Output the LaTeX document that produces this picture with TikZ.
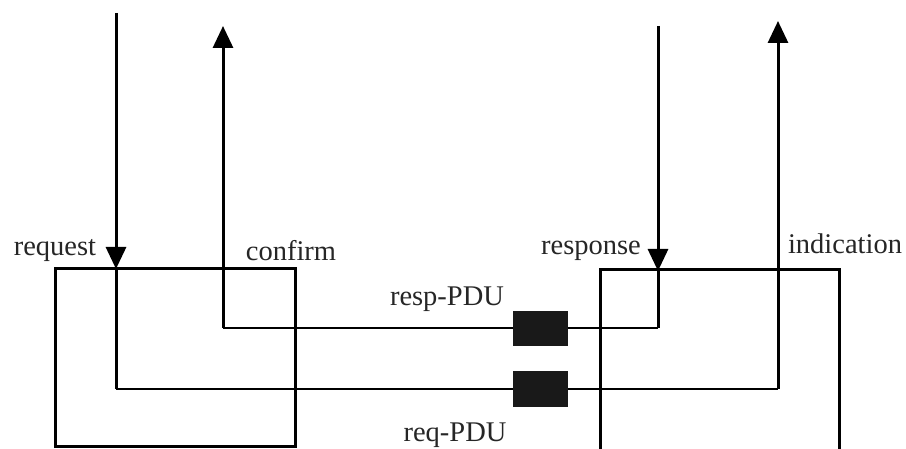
\documentclass[tikz,border=0pt]{standalone}
\usepackage{fontspec}
\setmainfont{Liberation Serif}
\usetikzlibrary{arrows.meta}
\begin{document}
\begin{tikzpicture}[x=1pt,y=-1pt,
  lbl/.style={font=\fontsize{28.5}{28.5}\selectfont, inner sep=0pt, text=black!85},
  sig/.style={line width=3pt},
  boxline/.style={line width=3pt},
  pdu/.style={line width=2.2pt},
  tip/.style={-{Triangle[width=20pt,length=22pt]}},
  pdubox/.style={fill=black!90, minimum width=55pt, minimum height=35pt, inner sep=0pt}]
\useasboundingbox (0,0) rectangle (906,449);
% entity boxes
\draw[boxline] (55,446) -- (55,269) -- (295,269) -- (295,446) -- cycle;
\draw[boxline] (600,452) -- (600,270) -- (839,270) -- (839,452);
% service primitive ends
\coordinate (reqTop) at (116,13);
\coordinate (reqIn) at (116,269);
\coordinate (reqCorner) at (116,389);
\coordinate (indCorner) at (778,389);
\coordinate (indTop) at (778,21);
\coordinate (cnfTop) at (223,26);
\coordinate (cnfCorner) at (223,328);
\coordinate (rspCorner) at (658,328);
\coordinate (rspTop) at (658,26);
\coordinate (rspIn) at (658,271);
% PDU lines
\draw[pdu] (cnfCorner) -- (rspCorner);
\draw[pdu] (reqCorner) -- (indCorner);
% vertical lines
\draw[sig,tip] (reqTop) -- (reqIn);
\draw[sig] (reqIn) -- (reqCorner);
\draw[sig,tip] (cnfCorner) -- (cnfTop);
\draw[sig,tip] (rspTop) -- (rspIn);
\draw[sig] (rspIn) -- (rspCorner);
\draw[sig,tip] (indCorner) -- (indTop);
% PDU boxes
\node[pdubox] (resppdu) at (540.5,329) {};
\node[pdubox] (reqpdu) at (540.5,389) {};
% labels
\node[lbl] (lreq) at (55,251) {request};
\node[lbl] (lcnf) at (291,251) {confirm};
\node[lbl] (lrsp) at (591,251) {response};
\node[lbl] (lind) at (845,244) {indication};
\node[lbl] (lresp) at (447,299) {resp-PDU};
\node[lbl] (lreqp) at (455,435) {req-PDU};
\end{tikzpicture}
\end{document}
